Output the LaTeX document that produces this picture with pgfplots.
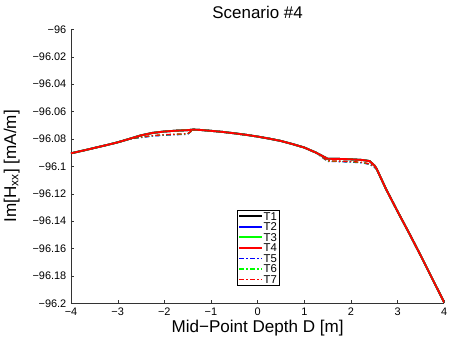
\documentclass[border=0pt]{standalone}
\usepackage{fontspec}
\setmainfont{Liberation Sans}
\usepackage{pgfplots}
\pgfplotsset{compat=1.18}
\usetikzlibrary{calc}
\begin{document}
\begin{tikzpicture}
\begin{axis}[
  scale only axis,
  width=280pt, height=205.5pt,
  xmin=-4, xmax=4, ymin=-96.2, ymax=-96,
  axis lines*=left,
  axis line style={gray!40!black, -},
  tick style={gray!40!black},
  tick align=inside,
  major tick length=2.5pt,
  xtick={-4,-3,-2,-1,0,1,2,3,4},
  xticklabels={−4,−3,−2,−1,0,1,2,3,4},
  ytick={-96.2,-96.18,-96.16,-96.14,-96.12,-96.1,-96.08,-96.06,-96.04,-96.02,-96},
  yticklabels={−96.2,−96.18,−96.16,−96.14,−96.12,−96.1,−96.08,−96.06,−96.04,−96.02,−96},
  tick label style={font=\fontsize{8.2}{10}\selectfont},
  every axis title shift=0pt,
  title={Scenario \#4},
  every axis title/.style={at={(axis description cs:0.5,1)}, yshift=13pt, anchor=center, font=\fontsize{12.7}{14}\selectfont},
  xlabel={Mid−Point Depth D [m]},
  every axis x label/.style={at={(axis description cs:0.5,0)}, yshift=-18.6pt, anchor=center, font=\fontsize{12.8}{14}\selectfont},
  ylabel={Im[H\textsubscript{xx}] [mA/m]},
  every axis y label/.style={at={(axis description cs:0,0.5)}, xshift=-44.5pt, rotate=90, anchor=center, font=\fontsize{12.8}{14}\selectfont},
  legend style={at={(0.501,0.3405)}, anchor=north, draw=black, font=\fontsize{8.5}{8.5}\selectfont, inner sep=1pt, row sep=0.9pt,
    nodes={inner sep=0.5pt, text height=6pt, text depth=0pt}, legend cell align=left},
  legend image code/.code={\draw[#1] (0pt,0pt) -- (17pt,0pt);},
]
% dash-dot series (drawn underneath)
\addplot[blue, line width=1pt, dash pattern=on 3.5pt off 1.8pt on 1pt off 1.8pt, forget plot] coordinates {
(-4.00,-96.0905) (-3.75,-96.0886) (-3.50,-96.0866) (-3.25,-96.0846) (-3.00,-96.0825) (-2.75,-96.0800)
(-2.50,-96.0790) (-2.25,-96.0779) (-2.00,-96.0773) (-1.75,-96.0769) (-1.50,-96.0766) (-1.38,-96.0732)
(-1.25,-96.0734) (-1.00,-96.0741) (-0.75,-96.0749) (-0.50,-96.0759) (-0.25,-96.0770) (0.00,-96.0783)
(0.25,-96.0798) (0.50,-96.0815) (0.75,-96.0838) (1.00,-96.0863) (1.25,-96.0900)
(1.50,-96.0964) (1.75,-96.0966) (2.00,-96.0969) (2.25,-96.0975) (2.40,-96.0986) (2.50,-96.1006) (2.55,-96.1022)
(2.75,-96.1165) (3.00,-96.1330) (3.25,-96.1490) (3.50,-96.1655) (3.75,-96.1825) (4.00,-96.1995)};
\addplot[green, line width=1pt, dash pattern=on 3.5pt off 1.8pt on 1pt off 1.8pt, forget plot] coordinates {
(-4.00,-96.0905) (-3.75,-96.0886) (-3.50,-96.0866) (-3.25,-96.0846) (-3.00,-96.0825) (-2.75,-96.0800)
(-2.50,-96.0788) (-2.25,-96.0777) (-2.00,-96.0771) (-1.75,-96.0767) (-1.50,-96.0764) (-1.38,-96.0732)
(-1.25,-96.0734) (-1.00,-96.0741) (-0.75,-96.0749) (-0.50,-96.0759) (-0.25,-96.0770) (0.00,-96.0783)
(0.25,-96.0798) (0.50,-96.0815) (0.75,-96.0838) (1.00,-96.0863) (1.25,-96.0900)
(1.50,-96.0962) (1.75,-96.0964) (2.00,-96.0967) (2.25,-96.0973) (2.40,-96.0984) (2.50,-96.1004) (2.55,-96.1021)
(2.75,-96.1165) (3.00,-96.1330) (3.25,-96.1490) (3.50,-96.1655) (3.75,-96.1825) (4.00,-96.1995)};
\addplot[red, line width=1pt, dash pattern=on 3.5pt off 1.8pt on 1pt off 1.8pt, forget plot] coordinates {
(-4.00,-96.0905) (-3.75,-96.0886) (-3.50,-96.0866) (-3.25,-96.0846) (-3.00,-96.0825) (-2.75,-96.0800)
(-2.50,-96.0786) (-2.25,-96.0775) (-2.00,-96.0769) (-1.75,-96.0765) (-1.50,-96.0762) (-1.38,-96.0732)
(-1.25,-96.0734) (-1.00,-96.0741) (-0.75,-96.0749) (-0.50,-96.0759) (-0.25,-96.0770) (0.00,-96.0783)
(0.25,-96.0798) (0.50,-96.0815) (0.75,-96.0838) (1.00,-96.0863) (1.25,-96.0900)
(1.50,-96.0960) (1.75,-96.0962) (2.00,-96.0965) (2.25,-96.0971) (2.40,-96.0982) (2.50,-96.1002) (2.55,-96.1020)
(2.75,-96.1165) (3.00,-96.1330) (3.25,-96.1490) (3.50,-96.1655) (3.75,-96.1825) (4.00,-96.1995)};
% solid series
\addplot[black, line width=1.4pt] coordinates {
(-4.00,-96.0905) (-3.75,-96.0886) (-3.50,-96.0866) (-3.25,-96.0846) (-3.00,-96.0825) (-2.75,-96.0800)
(-2.50,-96.0774) (-2.25,-96.0756) (-2.00,-96.0746) (-1.75,-96.0740) (-1.50,-96.0736) (-1.38,-96.0732)
(-1.25,-96.0734) (-1.00,-96.0741) (-0.75,-96.0749) (-0.50,-96.0759) (-0.25,-96.0770) (0.00,-96.0783)
(0.25,-96.0798) (0.50,-96.0815) (0.75,-96.0838) (1.00,-96.0863) (1.25,-96.0900)
(1.50,-96.0945) (1.75,-96.0946) (2.00,-96.0949) (2.25,-96.0954) (2.40,-96.0962) (2.50,-96.0993) (2.55,-96.1018)
(2.75,-96.1165) (3.00,-96.1330) (3.25,-96.1490) (3.50,-96.1655) (3.75,-96.1825) (4.00,-96.1995)};
\addplot[blue, line width=1.4pt] coordinates {
(-4.00,-96.0905) (-3.75,-96.0886) (-3.50,-96.0866) (-3.25,-96.0846) (-3.00,-96.0825) (-2.75,-96.0800)
(-2.50,-96.0774) (-2.25,-96.0756) (-2.00,-96.0746) (-1.75,-96.0740) (-1.50,-96.0736) (-1.38,-96.0732)
(-1.25,-96.0734) (-1.00,-96.0741) (-0.75,-96.0749) (-0.50,-96.0759) (-0.25,-96.0770) (0.00,-96.0783)
(0.25,-96.0798) (0.50,-96.0815) (0.75,-96.0838) (1.00,-96.0863) (1.25,-96.0900)
(1.50,-96.0945) (1.75,-96.0946) (2.00,-96.0949) (2.25,-96.0954) (2.40,-96.0962) (2.50,-96.0993) (2.55,-96.1018)
(2.75,-96.1165) (3.00,-96.1330) (3.25,-96.1490) (3.50,-96.1655) (3.75,-96.1825) (4.00,-96.1995)};
\addplot[green, line width=1.4pt] coordinates {
(-4.00,-96.0905) (-3.75,-96.0886) (-3.50,-96.0866) (-3.25,-96.0846) (-3.00,-96.0825) (-2.75,-96.0800)
(-2.50,-96.0774) (-2.25,-96.0756) (-2.00,-96.0746) (-1.75,-96.0740) (-1.50,-96.0736) (-1.38,-96.0732)
(-1.25,-96.0734) (-1.00,-96.0741) (-0.75,-96.0749) (-0.50,-96.0759) (-0.25,-96.0770) (0.00,-96.0783)
(0.25,-96.0798) (0.50,-96.0815) (0.75,-96.0838) (1.00,-96.0863) (1.25,-96.0900)
(1.50,-96.0945) (1.75,-96.0946) (2.00,-96.0949) (2.25,-96.0954) (2.40,-96.0962) (2.50,-96.0993) (2.55,-96.1018)
(2.75,-96.1165) (3.00,-96.1330) (3.25,-96.1490) (3.50,-96.1655) (3.75,-96.1825) (4.00,-96.1995)};
\addplot[red, line width=1.4pt] coordinates {
(-4.00,-96.0905) (-3.75,-96.0886) (-3.50,-96.0866) (-3.25,-96.0846) (-3.00,-96.0825) (-2.75,-96.0800)
(-2.50,-96.0774) (-2.25,-96.0756) (-2.00,-96.0746) (-1.75,-96.0740) (-1.50,-96.0736) (-1.38,-96.0732)
(-1.25,-96.0734) (-1.00,-96.0741) (-0.75,-96.0749) (-0.50,-96.0759) (-0.25,-96.0770) (0.00,-96.0783)
(0.25,-96.0798) (0.50,-96.0815) (0.75,-96.0838) (1.00,-96.0863) (1.25,-96.0900)
(1.50,-96.0945) (1.75,-96.0946) (2.00,-96.0949) (2.25,-96.0954) (2.40,-96.0962) (2.50,-96.0993) (2.55,-96.1018)
(2.75,-96.1165) (3.00,-96.1330) (3.25,-96.1490) (3.50,-96.1655) (3.75,-96.1825) (4.00,-96.1995)};
\addlegendimage{blue, line width=1pt, dash pattern=on 3.5pt off 1.8pt on 1pt off 1.8pt}
\addlegendimage{green, line width=1pt, dash pattern=on 3.5pt off 1.8pt on 1pt off 1.8pt}
\addlegendimage{red, line width=1pt, dash pattern=on 3.5pt off 1.8pt on 1pt off 1.8pt}
\legend{T1,T2,T3,T4,T5,T6,T7}
\end{axis}
\pgfresetboundingbox
\path ($(current axis.south west)+(-53.25pt,-26pt)$) rectangle ($(current axis.north east)+(4.3pt,22pt)$);
\end{tikzpicture}
\end{document}
